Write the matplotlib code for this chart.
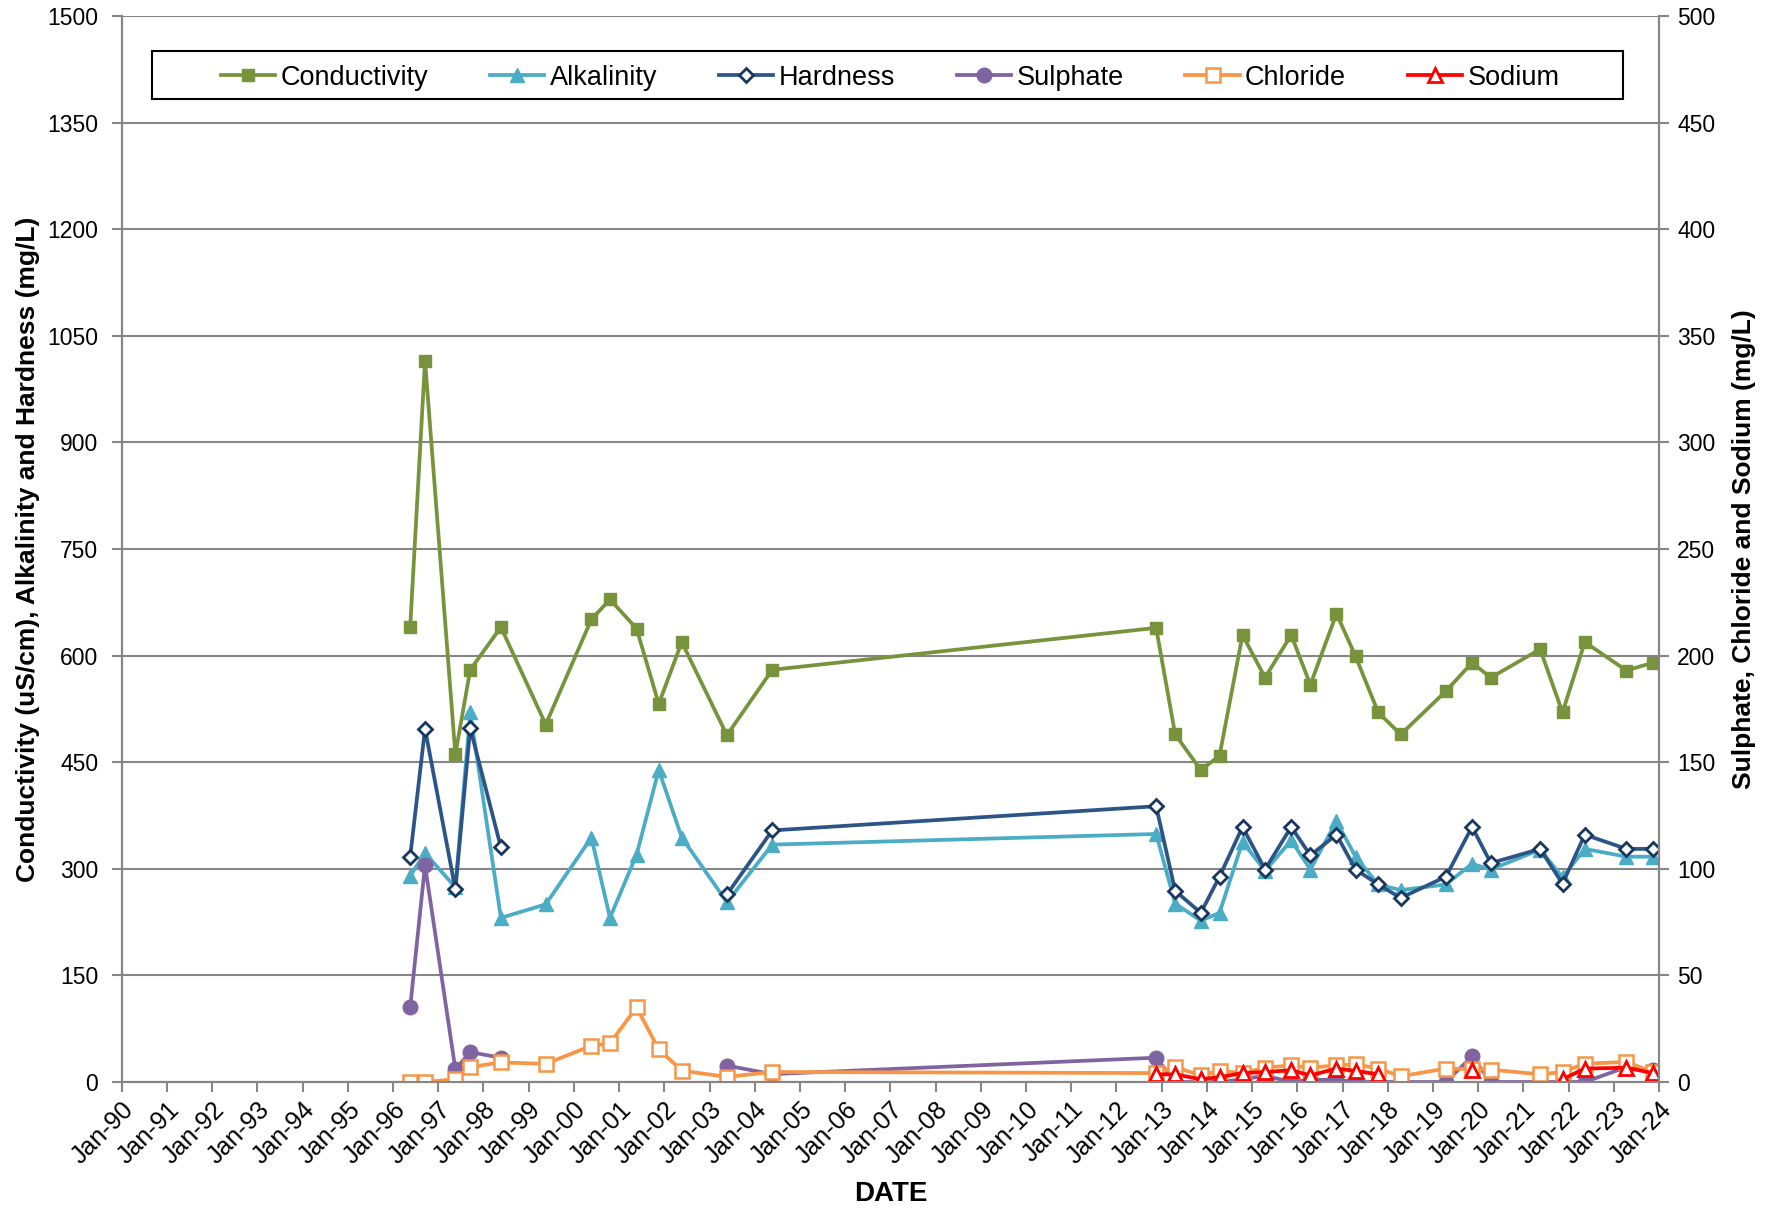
import matplotlib
matplotlib.use("Agg")
import matplotlib.pyplot as plt
import matplotlib.dates as mdates
from matplotlib.patches import Rectangle
import numpy as np
import pandas as pd

nan = np.nan

# sampling dates
dates = ["1996-05-19", "1996-09-16", "1997-05-19", "1997-09-16", "1998-05-22",
         "1999-05-19", "2000-05-22", "2000-10-19", "2001-05-22", "2001-11-17",
         "2002-05-22", "2003-05-22", "2004-05-22",
         "2012-11-17", "2013-04-20", "2013-11-13", "2014-04-13", "2014-10-16",
         "2015-04-16", "2015-11-13", "2016-04-16", "2016-11-13", "2017-04-16",
         "2017-10-16", "2018-04-16", "2019-04-16", "2019-11-13", "2020-04-13",
         "2021-05-16", "2021-11-13", "2022-05-12", "2023-04-13", "2023-11-13"]

# left axis (uS/cm and mg/L)
conductivity = [640, 1015, 461, 580, 640, 503, 651, 679, 638, 532, 619, 488, 580,
                639, 489, 439, 459, 629, 569, 629, 559, 659, 599, 520, 489, 550,
                590, 569, 609, 520, 619, 579, 590]
alkalinity = [290, 322, 274, 520, 231, 250, 344, 231, 320, 439, 344, 253, 334,
              349, 251, 227, 238, 338, 297, 340, 299, 367, 317, 278, 270, 278,
              307, 299, 327, 288, 328, 317, 317]
hardness = [317, 497, 271, 498, 330, nan, nan, nan, nan, nan, nan, 264, 354,
            388, 269, 238, 289, 359, 299, 359, 319, 348, 299, 278, 259, 289,
            359, 308, 328, 279, 348, 328, 328]

# right axis (mg/L)
sulphate = [35, 101.7, 6, 14, 11.4, nan, nan, nan, nan, nan, nan, 7.7, 3.7,
            11.4, 0, 0, 0, 1.2, 3, 0, 1, 1, 0, 0, 0, 0,
            12, 0, 0, 0, 0, 7, 5.5]
chloride = [0, 0, 1.3, 7, 9.2, 8.5, 17, 18.2, 35, 15.3, 5.3, 2.4, 4.7,
            4.2, 7, 3.1, 5.2, 4.2, 6.7, 7.8, 6.7, 7.8, 8.3, 6.3, 2.7, 6.3,
            6, 5.8, 3.6, 4.7, 8.6, 9.4, 4.7]
sodium = [nan, nan, nan, nan, nan, nan, nan, nan, nan, nan, nan, nan, nan,
          3.6, 3.6, 1.3, 2.3, 4.2, 4.7, 5.5, 3.1, 6.3, 5.2, 3.6, nan, nan,
          5.5, nan, nan, 1.3, 6.3, 6.7, 4.2]

x = pd.to_datetime(dates)

plt.rcParams['font.family'] = ['Liberation Sans', 'DejaVu Sans']

fig = plt.figure(figsize=(17.8, 12.08), dpi=100)
ax = fig.add_axes([0.0684, 0.1043, 0.8636, 0.8825])
ax2 = ax.twinx()

lw = 2.7
ax.plot(x, conductivity, color='#77933C', lw=lw, marker='s', ms=9, label='Conductivity')
ax.plot(x, alkalinity, color='#4BACC6', lw=lw, marker='^', ms=10.5, label='Alkalinity')
ax.plot(x, hardness, color='#2C5486', lw=lw, marker='D', ms=7.5, mfc='white',
        mec='#17375E', mew=2, label='Hardness')

ax2.plot(x, sulphate, color='#8064A2', lw=lw, marker='o', ms=10.5, label='Sulphate')
ax2.plot(x, chloride, color='#F79646', lw=lw, marker='s', ms=10.5, mfc='white',
         mew=1.8, label='Chloride')
ax2.plot(x, sodium, color='#FF0000', lw=lw, marker='^', ms=10, mfc='white',
         mew=2, label='Sodium')

# axes ranges and ticks
ax.set_xlim(pd.Timestamp("1990-01-01"), pd.Timestamp("2024-01-01"))
ax.set_ylim(0, 1500)
ax2.set_ylim(0, 500)
ax.set_yticks(np.arange(0, 1501, 150))
ax2.set_yticks(np.arange(0, 501, 50))
ax.xaxis.set_major_locator(mdates.YearLocator(1))
ax.xaxis.set_major_formatter(mdates.DateFormatter('%b-%y'))

ax.grid(axis='y', color='#868686', lw=1.5)
ax.set_axisbelow(True)

gray = '#868686'
for a in (ax, ax2):
    a.spines['top'].set_visible(False)
    for s in ('left', 'right', 'bottom'):
        a.spines[s].set_color(gray)
        a.spines[s].set_linewidth(1.5)
    a.tick_params(axis='both', color=gray, width=1.5, length=7)
ax.tick_params(axis='y', labelsize=16.5, pad=10)
ax2.tick_params(axis='y', labelsize=16.5, pad=6)
ax.tick_params(axis='x', labelsize=18, pad=4)
for lab in ax.get_xticklabels():
    lab.set_rotation(45)
    lab.set_ha('right')
    lab.set_rotation_mode('anchor')

ax.set_xlabel('DATE', fontsize=20, fontweight='bold', labelpad=9)
ax.set_ylabel('Conductivity (uS/cm), Alkalinity and Hardness (mg/L)',
              fontsize=19, fontweight='bold', labelpad=5)
ax2.set_ylabel('Sulphate, Chloride and Sodium (mg/L)', fontsize=19,
               fontweight='bold', rotation=90, labelpad=12)

# one legend for both axes, with a plain black box drawn around it
h1, l1 = ax.get_legend_handles_labels()
h2, l2 = ax2.get_legend_handles_labels()
leg = ax2.legend(h1 + h2, l1 + l2, ncol=6, loc='center',
                 bbox_to_anchor=(0.5, 0.942), fontsize=19.5, frameon=False,
                 handlelength=2.0, handletextpad=0.2, columnspacing=2.28)
ax2.add_patch(Rectangle((0.0197, 0.922), 0.957, 0.045, transform=ax2.transAxes,
                        fill=False, edgecolor='black', lw=1.5, zorder=5))

fig.savefig('out.png', dpi=100)
